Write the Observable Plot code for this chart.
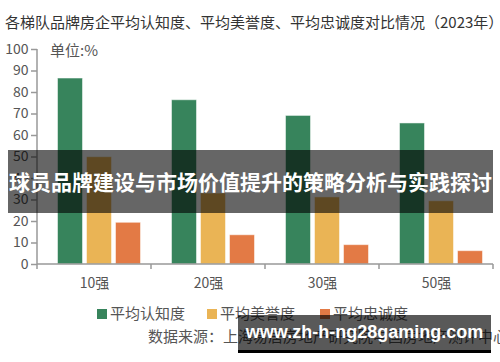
<!DOCTYPE html>
<html><head><meta charset="utf-8">
<script src="https://cdn.jsdelivr.net/npm/d3@7"></script>
<script src="https://cdn.jsdelivr.net/npm/@observablehq/plot@0.6"></script>
<style>
body{margin:0;background:#fff;}
#wrap{position:relative;width:500px;height:362px;overflow:hidden;font-family:"Noto Sans CJK SC","Noto Sans",sans-serif;}
#chart{position:absolute;left:0;top:0;}
.abs{position:absolute;white-space:nowrap;}
#title{left:5px;top:12px;font-size:15px;line-height:20px;color:#333;}
#unit{left:50px;top:40px;font-size:15px;line-height:20px;color:#555;}
#legend{left:0;top:303px;font-size:15px;line-height:20px;color:#555;}
.li{position:absolute;top:0;white-space:nowrap;}
.sw{display:inline-block;width:10px;height:10px;margin-right:3px;vertical-align:-0px;}
#source{left:148px;top:326px;font-size:15px;line-height:20px;color:#555;}
#banner{left:8px;top:150px;width:485px;height:63px;background:rgba(0,0,0,0.6);color:#fff;font-weight:bold;font-size:21px;line-height:63px;text-align:center;}
#wm{left:238px;top:315px;width:253px;height:35px;background:rgba(0,0,0,0.65);border-bottom:3px solid #000;color:#fff;font-family:"Liberation Sans",Arial,sans-serif;font-weight:bold;font-size:18px;line-height:35px;text-align:center;}
</style></head><body>
<div id="wrap">
  <div id="chart"></div>
  <div id="title" class="abs"></div>
  <div id="unit" class="abs"></div>
  <div id="legend" class="abs"></div>
  <div id="source" class="abs"></div>
  <div id="banner" class="abs"></div>
  <div id="wm" class="abs"></div>
</div>
<script>
const titleText = "各梯队品牌房企平均认知度、平均美誉度、平均忠诚度对比情况（2023年）";
const unitText = "单位:%";
const sourceText = "数据来源：上海易居房地产研究院中国房地产测评中心";
const bannerText = "球员品牌建设与市场价值提升的策略分析与实践探讨";
const watermarkText = "www.zh-h-ng28gaming.com";

const tiers = ["10强", "20强", "30强", "50强"];
const seriesNames = ["平均认知度", "平均美誉度", "平均忠诚度"];
const awareness = [86.5, 76.4, 69.1, 65.6];
const reputation = [49.9, 33, 31.2, 29.4];
const loyalty = [19.4, 13.6, 9.0, 6.2];
const colors = ["#37845c", "#eab455", "#e37a45"];
const yTicks = [0, 10, 20, 30, 40, 50, 60, 70, 80, 90, 100];

const seriesValues = [awareness, reputation, loyalty];
const data = tiers.flatMap((t, i) => seriesNames.map((s, j) => ({tier: t, series: s, value: seriesValues[j][i]})));

const font = '"Noto Sans CJK SC","Noto Sans",sans-serif';
const plot = Plot.plot({
  width: 500, height: 362,
  marginTop: 49, marginBottom: 98, marginLeft: 36, marginRight: 7,
  style: {fontFamily: font, fontSize: "14px", color: "#555", background: "transparent", overflow: "visible"},
  fx: {domain: tiers, padding: 0, label: null, axis: "bottom", tickSize: 0, tickPadding: 14},
  x: {domain: seriesNames, axis: null, paddingInner: 0.153, paddingOuter: 0.514},
  y: {domain: [0, 100], ticks: yTicks, label: null, tickSize: 6, tickPadding: 3},
  color: {domain: seriesNames, range: colors},
  marks: [
    Plot.barY(data, {fx: "tier", x: "series", y: "value", fill: "series", dx: 4.5, stroke: "#fff", strokeOpacity: 0.5, strokeWidth: 1})
  ]
});
document.getElementById("chart").appendChild(plot);

// axis lines drawn from the plot's own scales
const svg = d3.select(plot);
const ys = plot.scale("y"), fxs = plot.scale("fx");
const y0 = ys.apply(0), y100 = ys.apply(100);
const xL = fxs.apply(tiers[0]), xR = fxs.apply(tiers[tiers.length - 1]) + fxs.bandwidth;
svg.selectAll('g[aria-label="y-axis tick"] path, g[aria-label="y-axis tick"] line').attr("stroke", "#999").attr("stroke-width", 1.5);
const g = svg.append("g").attr("stroke", "#999").attr("stroke-width", 1.5);
g.append("line").attr("x1", xL).attr("x2", xL).attr("y1", y0).attr("y2", y100);
g.append("line").attr("x1", xL).attr("x2", xR).attr("y1", y0).attr("y2", y0);
const bounds = tiers.map(t => fxs.apply(t)).concat([xR]);
g.selectAll(null).data(bounds).join("line").attr("x1", d => d).attr("x2", d => d).attr("y1", y0).attr("y2", y0 + 5);

document.getElementById("title").textContent = titleText;
document.getElementById("unit").textContent = unitText;
document.getElementById("source").textContent = sourceText;
document.getElementById("banner").textContent = bannerText;
document.getElementById("wm").textContent = watermarkText;
const legendX = [97, 207, 320];
const leg = document.getElementById("legend");
seriesNames.forEach((s, i) => {
  const d = document.createElement("div");
  d.className = "li";
  d.style.left = legendX[i] + "px";
  d.innerHTML = `<span class="sw" style="background:${colors[i]}"></span>${s}`;
  leg.appendChild(d);
});
</script>
</body></html>
